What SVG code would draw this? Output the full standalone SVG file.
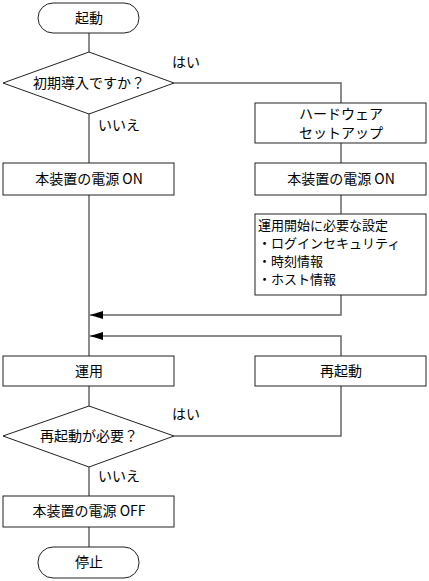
<svg xmlns="http://www.w3.org/2000/svg" width="429" height="581" viewBox="0 0 429 581">
<defs>
<style>
.box{fill:#fff;stroke:#222;stroke-width:1}
.ln{fill:none;stroke:#666;stroke-width:1.5}
.t{font-family:"Noto Sans CJK JP","DejaVu Sans",sans-serif;font-size:14px;fill:#000}
.s{font-size:13px}
.c{text-anchor:middle}
</style>
<marker id="ah" markerWidth="14" markerHeight="8" refX="13" refY="4" orient="auto" markerUnits="userSpaceOnUse">
<path d="M0,0 L13,4 L0,8 Z" fill="#000"/>
</marker>
</defs>
<rect width="429" height="581" fill="#fff"/>
<g id="connectors">
<line class="ln" x1="89" y1="33" x2="89" y2="52"/>
<polyline class="ln" points="174,83 341,83 341,103"/>
<line class="ln" x1="89" y1="114" x2="89" y2="163"/>
<line class="ln" x1="341" y1="143" x2="341" y2="163"/>
<line class="ln" x1="341" y1="195" x2="341" y2="214"/>
<line class="ln" x1="89" y1="195" x2="89" y2="356"/>
<polyline class="ln" points="341,295 341,315 90,315" marker-end="url(#ah)"/>
<polyline class="ln" points="341,356 341,336 90,336" marker-end="url(#ah)"/>
<line class="ln" x1="89" y1="386" x2="89" y2="406"/>
<polyline class="ln" points="174,436 341,436 341,386"/>
<line class="ln" x1="89" y1="467" x2="89" y2="496"/>
<line class="ln" x1="89" y1="527" x2="89" y2="547"/>
<text class="t" x="172" y="67">はい</text>
<text class="t" x="98" y="130">いいえ</text>
<text class="t" x="172" y="419">はい</text>
<text class="t" x="98" y="481">いいえ</text>
</g>
<g id="start"><rect class="box" x="38" y="3" width="101" height="30" rx="15"/><text class="t c" x="89" y="23">起動</text></g>
<g id="q1"><polygon class="box" points="89,52 174,83 89,114 3,83"/><text class="t c" x="89" y="88">初期導入ですか？</text></g>
<g id="hw"><rect class="box" x="255" y="103" width="171" height="40"/><text class="t c" x="341" y="119">ハードウェア</text><text class="t c" x="341" y="138">セットアップ</text></g>
<g id="on1"><rect class="box" x="3" y="163" width="171" height="32"/><text class="t c" x="89" y="184">本装置の電源 ON</text></g>
<g id="on2"><rect class="box" x="255" y="163" width="171" height="32"/><text class="t c" x="341" y="184">本装置の電源 ON</text></g>
<g id="settings"><rect class="box" x="255" y="214" width="171" height="81"/>
<text class="t s" x="258" y="230">運用開始に必要な設定</text>
<text class="t s" x="258" y="248">・ログインセキュリティ</text>
<text class="t s" x="258" y="266">・時刻情報</text>
<text class="t s" x="258" y="284">・ホスト情報</text></g>
<g id="op"><rect class="box" x="3" y="356" width="171" height="30"/><text class="t c" x="89" y="376">運用</text></g>
<g id="restart"><rect class="box" x="255" y="356" width="171" height="30"/><text class="t c" x="341" y="376">再起動</text></g>
<g id="q2"><polygon class="box" points="89,406 174,436 89,467 3,436"/><text class="t c" x="89" y="441">再起動が必要？</text></g>
<g id="off"><rect class="box" x="3" y="496" width="171" height="31"/><text class="t c" x="89" y="516">本装置の電源 OFF</text></g>
<g id="stop"><rect class="box" x="38" y="547" width="101" height="31" rx="15"/><text class="t c" x="89" y="567">停止</text></g>
</svg>
